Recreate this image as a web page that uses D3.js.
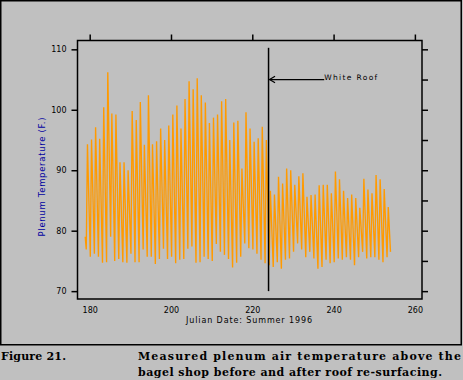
<!DOCTYPE html>
<html>
<head>
<meta charset="utf-8">
<script src="https://cdn.jsdelivr.net/npm/d3@7"></script>
<style>
  html, body { margin: 0; padding: 0; background: #c0c0c0; }
  svg { display: block; }
</style>
</head>
<body>
<svg id="chart" width="463" height="380"></svg>
<script>
// ---- data ----
const days = [179,180,181,182,183,184,185,186,187,188,189,190,191,192,193,194,195,196,197,198,
  199,200,201,202,203,204,205,206,207,208,209,210,211,212,213,214,215,216,217,218,219,220,221,
  222,223,224,225,226,227,228,229,230,231,232,233,234,235,236,237,238,239,240,241,242,243,244,
  245,246,247,248,249,250,251,252,253];
const dailyMax = [94.3,95.1,97.1,95.2,100.4,106.2,99.4,99.2,91.3,91.3,90.0,99.8,98.3,101.3,94.2,
  102.4,94.3,94.8,96.9,95.0,97.4,99.2,100.7,96.9,101.8,104.7,103.4,105.2,102.4,101.2,97.8,98.7,
  99.2,101.4,101.8,95.0,97.9,98.2,90.3,99.6,96.9,94.7,95.3,97.2,95.0,86.6,86.0,88.9,87.8,90.3,
  90.0,87.6,89.0,89.5,85.6,85.9,86.0,87.5,87.6,87.6,86.2,89.8,88.5,86.6,85.4,86.0,85.4,83.8,
  88.6,86.8,86.2,89.2,88.5,86.9,83.9];
const dailyMin = [76.9,75.7,76.2,75.7,74.7,74.8,79.0,75.0,75.3,74.8,74.7,76.2,74.8,74.8,76.9,
  75.7,75.7,74.5,75.3,77.0,75.3,75.7,74.6,75.2,75.3,77.0,77.4,74.7,74.8,75.7,75.3,75.0,77.8,
  76.5,76.0,75.3,73.9,74.7,75.7,77.9,77.1,76.9,76.2,75.2,74.6,74.3,74.0,74.8,73.7,75.2,75.4,
  76.5,77.9,76.9,75.6,76.5,75.4,73.7,74.0,75.2,74.6,74.8,75.4,75.2,75.6,75.2,74.3,75.6,76.5,
  75.4,75.6,75.6,75.2,74.8,75.6];
const startPoint = {t: 178.9, v: 79.0};
const endPoint = {t: 254.0, v: 76.5};
const xTicks = [180, 200, 220, 240, 260];
const yTicks = [70, 80, 90, 100, 110];
const yMinorTicks = [70, 75, 80, 85, 90, 95, 100, 105, 110];
const roofDay = 224;
const arrowValue = 105;
const arrowTextDay = 237.7;

// ---- layout ----
const svg = d3.select("#chart");
const L = 77.5, R = 422, T = 40.5, B = 299;
const x = d3.scaleLinear().domain([177.0, 261.75]).range([L, R]);
const y = d3.scaleLinear().domain([68.7, 111.46]).range([B, T]);
const font = "'DejaVu Sans', 'Liberation Sans', Arial, sans-serif";

// outer frame
svg.append("rect").attr("x", 0.75).attr("y", 0.75).attr("width", 460.5).attr("height", 344)
  .attr("fill", "#c0c0c0").attr("stroke", "#000").attr("stroke-width", 1.5);

// series points
const pts = [startPoint];
days.forEach((d, i) => {
  pts.push({t: d + 0.15, v: dailyMin[i]});
  pts.push({t: d + 0.45, v: dailyMax[i]});
});
pts.push(endPoint);

const line = d3.line().x(p => x(p.t)).y(p => y(p.v));
svg.append("path").datum(pts).attr("d", line)
  .attr("fill", "none").attr("stroke", "#ff9a00").attr("stroke-width", 1.35)
  .attr("stroke-linejoin", "bevel");

// plot box
svg.append("rect").attr("x", L).attr("y", T).attr("width", R - L).attr("height", B - T)
  .attr("fill", "none").attr("stroke", "#000").attr("stroke-width", 1.5);

// axes
function style(g) {
  g.select(".domain").remove();
  g.selectAll("line").attr("stroke", "#000").attr("stroke-width", 1.5);
  g.selectAll("text").attr("fill", "#000").style("font-family", font).style("font-size", "8px");
}
svg.append("g").attr("transform", `translate(${L},0)`)
  .call(d3.axisLeft(y).tickValues(yTicks).tickSize(6).tickPadding(5).tickFormat(d3.format("d")))
  .call(style);
svg.append("g").attr("transform", `translate(${R},0)`)
  .call(d3.axisRight(y).tickValues(yMinorTicks).tickSize(6).tickFormat(""))
  .call(style);
svg.append("g").attr("transform", `translate(0,${T})`)
  .call(d3.axisTop(x).tickValues(xTicks).tickSize(6).tickFormat(""))
  .call(style);
svg.append("g").attr("transform", `translate(0,${B})`)
  .call(d3.axisBottom(x).tickValues(xTicks).tickSize(0).tickPadding(8.5).tickFormat(d3.format("d")))
  .call(style);

// axis titles
svg.append("text").attr("x", 249).attr("y", 322.5).attr("text-anchor", "middle")
  .attr("textLength", 126).attr("lengthAdjust", "spacing")
  .style("font-family", font).style("font-size", "8px").attr("fill", "#000")
  .text("Julian Date: Summer 1996");
svg.append("text").attr("transform", "translate(44.5,177) rotate(-90)").attr("text-anchor", "middle")
  .attr("textLength", 119).attr("lengthAdjust", "spacing")
  .style("font-family", font).style("font-size", "8.5px").attr("fill", "#0000a0")
  .text("Plenum Temperature (F.)");

// roof change marker
svg.append("line").attr("x1", x(roofDay)).attr("x2", x(roofDay))
  .attr("y1", y(110.25)).attr("y2", y(70)).attr("stroke", "#000").attr("stroke-width", 1.5);
const ay = y(arrowValue);
svg.append("line").attr("x1", x(roofDay) + 1).attr("x2", x(arrowTextDay))
  .attr("y1", ay).attr("y2", ay).attr("stroke", "#000").attr("stroke-width", 1.2);
svg.append("path")
  .attr("d", `M${x(roofDay) + 6.5},${ay - 3.2} L${x(roofDay) + 1},${ay} L${x(roofDay) + 6.5},${ay + 3.2}`)
  .attr("fill", "none").attr("stroke", "#000").attr("stroke-width", 1.2);
svg.append("text").attr("x", x(arrowTextDay)).attr("y", ay)
  .attr("textLength", 53).attr("lengthAdjust", "spacing")
  .style("font-family", font).style("font-size", "7.5px").attr("fill", "#000")
  .text("White Roof");

// caption
const cap = "'DejaVu Serif', 'Liberation Serif', 'Times New Roman', serif";
svg.append("text").attr("x", 1).attr("y", 360)
  .style("font-family", cap).style("font-size", "11px").style("font-weight", "bold")
  .attr("textLength", 65).attr("lengthAdjust", "spacing").text("Figure 21.");
svg.append("text").attr("x", 138).attr("y", 360)
  .style("font-family", cap).style("font-size", "11px").style("font-weight", "bold")
  .attr("textLength", 323).attr("lengthAdjust", "spacing")
  .text("Measured plenum air temperature above the");
svg.append("text").attr("x", 138).attr("y", 375.5)
  .style("font-family", cap).style("font-size", "11px").style("font-weight", "bold")
  .attr("textLength", 304).attr("lengthAdjust", "spacing")
  .text("bagel shop before and after roof re-surfacing.");
</script>
</body>
</html>
